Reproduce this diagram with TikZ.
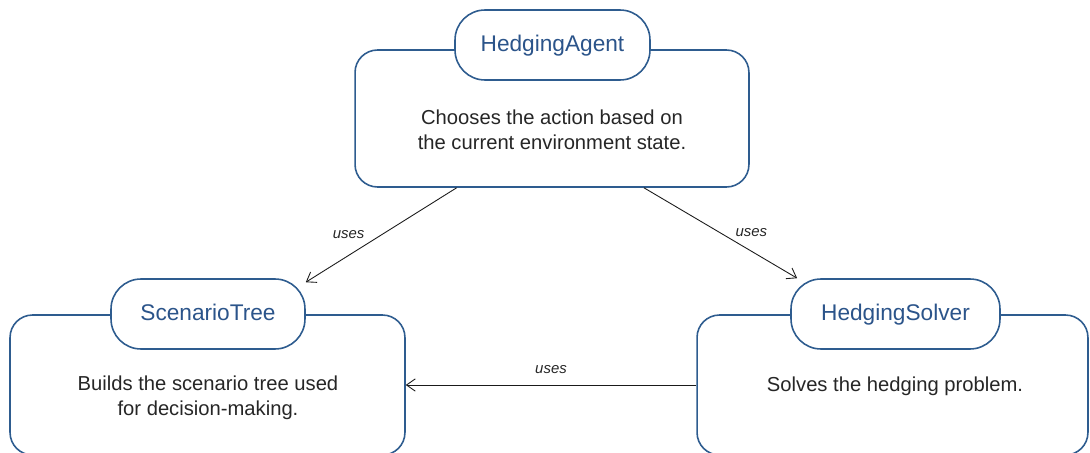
\documentclass[tikz,border=0pt]{standalone}
\usepackage{fontspec}
\setmainfont{Liberation Sans}
\usepackage[HTML]{xcolor}
\usetikzlibrary{positioning, arrows, arrows.meta}

\definecolor{framecol}{HTML}{2E5C8F}
\definecolor{titlecol}{HTML}{2B548A}

\begin{document}
\begin{tikzpicture}[x=0.02cm, y=-0.02cm,
  body/.style={draw=framecol, line width=0.9pt, rounded corners=0.45cm, fill=white, inner sep=0pt},
  pill/.style={draw=framecol, line width=0.9pt, rounded corners=0.6cm, fill=white,
    minimum height=1.4cm, inner sep=0pt, text height=0.95em, text depth=0.23em,
    text=titlecol, font=\fontsize{12.9}{15}\selectfont},
  desc/.style={align=center, text=black!85, font=\fontsize{11.5}{14.2}\selectfont},
  uses/.style={-{Straight Barb[length=5pt,width=7pt]}, line width=0.5pt, black!90},
  lbl/.style={font=\fontsize{8.5}{10}\selectfont\itshape, text=black!85}]
\useasboundingbox (0,0) rectangle (1090,453);
\clip (0,0) rectangle (1090,453);
% agent on top
\node[body, minimum width=7.88cm, minimum height=2.74cm] (HAbody) at (552,118.5) {};
\node[pill, minimum width=3.9cm] (HA) at (552.5,45) {HedgingAgent};
\node[desc] (HAtext) at (552,130) {Chooses the action based on\\the current environment state.};
% scenario tree, left
\node[body, minimum width=7.9cm, minimum height=2.8cm] (STbody) at (207.5,385) {};
\node[pill, minimum width=3.88cm] (ST) at (208,314) {ScenarioTree};
\node[desc] (STtext) at (208,398) {Builds the scenario tree used\\for decision-making.};
% solver, right
\node[body, minimum width=7.82cm, minimum height=2.8cm] (HSbody) at (892.5,385) {};
\node[pill, minimum width=4.18cm] (HS) at (895.5,314) {HedgingSolver};
\node[desc] (HStext) at (895,386) {Solves the hedging problem.};
% dependencies
\draw[uses] (HAbody.216.7) -- node[lbl, pos=0.5, left=6pt] {uses} (ST.18);
\draw[uses] (HAbody.323.3) -- node[lbl, pos=0.5, right=5pt] {uses} (HS.160);
\draw[uses] (HSbody.west) -- node[lbl, above=3pt] {uses} (STbody.east);
\end{tikzpicture}
\end{document}
